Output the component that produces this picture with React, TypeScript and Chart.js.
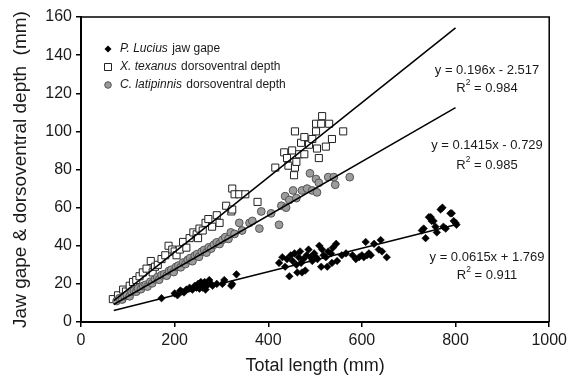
import React, { useEffect, useRef } from 'react';
import { Chart, registerables } from 'chart.js';

Chart.register(...registerables);

const FONT = '"Liberation Sans", Arial, Helvetica, sans-serif';

// P. Lucius jaw gape
const luciusLength = [172, 200, 206, 212, 215, 220, 225, 232, 238, 243, 247, 250, 253, 256, 260, 262, 264, 266, 268, 270, 274, 278, 281, 290, 302, 306, 321, 323, 332, 423, 430, 436, 440, 445, 448, 452, 456, 460, 462, 465, 468, 470, 472, 475, 479, 482, 486, 490, 494, 498, 502, 505, 509, 513, 515, 518, 523, 526, 528, 534, 536, 538, 545, 547, 557, 566, 580, 587, 594, 600, 604, 608, 611, 615, 619, 626, 636, 640, 643, 653, 728, 732, 736, 743, 747, 749, 753, 757, 760, 768, 772, 774, 779, 789, 792, 796, 800, 802];
const luciusGape = [12.5, 15, 14, 16.5, 16, 15.5, 17, 18, 17, 19, 18, 20, 17.5, 21, 18, 19.5, 21, 17, 19, 19.5, 22, 20, 19, 20, 20, 22, 19, 20, 25, 31, 34, 29, 33, 24, 35, 32, 36, 30, 26, 34, 37, 31, 26, 33, 27, 35, 38, 34, 32, 36, 34, 33, 40, 29, 38, 35, 34, 29, 37, 36, 31, 39, 41, 32, 35, 36, 35, 33, 34, 35, 34, 42, 35, 36, 35, 41, 38, 43, 37, 34, 48, 49, 44, 55, 55, 53, 53, 50, 47, 59, 60, 50, 49, 57, 57, 53, 52, 51];

// X. texanus dorsoventral depth
const texanusLength = [68, 79, 90, 96, 104, 111, 118, 125, 132, 140, 149, 153, 158, 164, 172, 180, 187, 195, 200, 204, 211, 218, 225, 232, 240, 247, 250, 253, 260, 266, 272, 280, 290, 296, 310, 321, 323, 323, 328, 338, 351, 377, 415, 434, 440, 443, 451, 455, 457, 457, 460, 466, 470, 477, 477, 487, 494, 502, 502, 504, 508, 513, 515, 523, 530, 536, 560];
const texanusDepth = [12, 14, 17, 16, 19, 21, 22, 24, 26, 28, 32, 26, 29, 30, 33, 35, 40, 38, 37, 35, 38, 42, 39, 44, 47, 46, 44, 49, 48, 52, 54, 50, 56, 52, 61, 58, 59, 70, 67, 67, 67, 63, 81, 89, 86, 82, 90, 77, 81, 100, 84, 88, 94, 97, 88, 93, 96, 104, 100, 91, 86, 104, 108, 92, 104, 96, 100];

// C. latipinnis dorsoventral depth
const latipinnisLength = [76, 82, 88, 93, 98, 104, 108, 113, 118, 122, 128, 133, 138, 142, 148, 152, 158, 163, 167, 172, 178, 183, 188, 193, 198, 203, 208, 213, 218, 223, 228, 233, 238, 243, 248, 252, 258, 263, 268, 273, 278, 284, 290, 296, 302, 308, 315, 320, 328, 338, 344, 360, 366, 381, 385, 406, 423, 428, 436, 438, 445, 453, 460, 472, 483, 489, 494, 502, 504, 508, 528, 540, 543, 574];
const latipinnisDepth = [11, 12.5, 11.8, 13.6, 14.2, 13.5, 15.8, 16.4, 15.9, 17.6, 17.2, 18.9, 19.5, 18.6, 21.1, 20.3, 22.4, 23.5, 22.2, 24.6, 25.1, 24.3, 26.8, 27.4, 26.2, 28.9, 29.6, 28.7, 31.2, 30.4, 32.6, 33.5, 31.9, 34.8, 35.6, 34.2, 36.9, 37.8, 36.4, 39.2, 38.5, 40.6, 41.8, 40.9, 43.1, 44.5, 43.6, 47, 46.2, 52, 48, 52, 53, 49, 58, 57, 51, 61, 66, 60, 64, 69, 65, 69, 70, 78, 69, 75, 68, 73, 76, 76, 72, 76];

// Linear fits (Lucius, texanus, latipinnis)
const fitSlopes = [0.0615, 0.196, 0.1415];
const fitIntercepts = [1.769, -2.517, -0.729];
const fitRange = [70, 800];
const fitEquations = ['y = 0.0615x + 1.769', 'y = 0.196x - 2.517', 'y = 0.1415x - 0.729'];
const fitR2 = ['0.911', '0.984', '0.985'];

const legendItalic = ['P. Lucius', 'X. texanus', 'C. latipinnis'];
const legendRest = [' jaw gape', ' dorsoventral depth', ' dorsoventral depth'];

const xTitle = 'Total length (mm)';
const yTitle = 'Jaw gape & dorsoventral depth  (mm)';

const toPoints = (xs: number[], ys: number[]) => xs.map((x, i) => ({ x, y: ys[i] }));
const fitPoints = (k: number) => fitRange.map((x) => ({ x, y: fitSlopes[k] * x + fitIntercepts[k] }));

const drawMarker = (ctx: CanvasRenderingContext2D, kind: number, x: number, y: number) => {
  ctx.save();
  ctx.lineWidth = 1;
  ctx.beginPath();
  if (kind === 0) {
    const r = 3.5;
    ctx.moveTo(x, y - r);
    ctx.lineTo(x + r, y);
    ctx.lineTo(x, y + r);
    ctx.lineTo(x - r, y);
    ctx.closePath();
    ctx.fillStyle = '#000';
    ctx.fill();
  } else if (kind === 1) {
    ctx.rect(x - 3.5, y - 3.5, 7, 7);
    ctx.fillStyle = '#fff';
    ctx.fill();
    ctx.strokeStyle = '#222';
    ctx.stroke();
  } else {
    ctx.arc(x, y, 3.3, 0, Math.PI * 2);
    ctx.fillStyle = '#9a9a9a';
    ctx.fill();
    ctx.strokeStyle = '#555';
    ctx.stroke();
  }
  ctx.restore();
};

const overlay = {
  id: 'overlay',
  afterDraw(chart: any) {
    const { ctx, chartArea: a } = chart;
    ctx.save();
    // frame top and right
    ctx.strokeStyle = '#000';
    ctx.lineWidth = 1.5;
    ctx.beginPath();
    ctx.moveTo(a.left, a.top);
    ctx.lineTo(a.right, a.top);
    ctx.lineTo(a.right, a.bottom);
    ctx.stroke();

    ctx.fillStyle = '#1a1a1a';
    // axis titles
    ctx.font = `18px ${FONT}`;
    ctx.textAlign = 'center';
    ctx.textBaseline = 'middle';
    ctx.fillText(xTitle, (a.left + a.right) / 2, 366);
    ctx.save();
    ctx.translate(21, (a.top + a.bottom) / 2);
    ctx.rotate(-Math.PI / 2);
    ctx.font = `19px ${FONT}`;
    ctx.fillText(yTitle, 0, 0);
    ctx.restore();

    // legend
    const rowsY = [49, 67, 85];
    ctx.textAlign = 'left';
    for (let i = 0; i < 3; i++) {
      drawMarker(ctx, i, 108, rowsY[i]);
      ctx.fillStyle = '#1a1a1a';
      ctx.font = `italic 12px ${FONT}`;
      ctx.fillText(legendItalic[i], 120, rowsY[i]);
      const w = ctx.measureText(legendItalic[i]).width;
      ctx.font = `12px ${FONT}`;
      ctx.fillText(legendRest[i], 120 + w + 1, rowsY[i]);
    }

    // equations
    const eqY = [257, 70, 145];
    const r2Y = [275, 88, 165];
    const cx = 487;
    for (let i = 0; i < 3; i++) {
      ctx.font = `13px ${FONT}`;
      ctx.textAlign = 'center';
      ctx.fillText(fitEquations[i], cx, eqY[i]);
      const rest = ' = ' + fitR2[i];
      ctx.font = `13px ${FONT}`;
      const wR = ctx.measureText('R').width;
      const wRest = ctx.measureText(rest).width;
      ctx.font = `8.5px ${FONT}`;
      const w2 = ctx.measureText('2').width;
      const total = wR + w2 + wRest;
      let x = cx - total / 2;
      ctx.textAlign = 'left';
      ctx.font = `13px ${FONT}`;
      ctx.fillText('R', x, r2Y[i]);
      x += wR;
      ctx.font = `8.5px ${FONT}`;
      ctx.fillText('2', x, r2Y[i] - 5);
      x += w2;
      ctx.font = `13px ${FONT}`;
      ctx.fillText(rest, x, r2Y[i]);
    }
    ctx.restore();
  },
};

export default function App() {
  const ref = useRef<HTMLCanvasElement | null>(null);
  useEffect(() => {
    if (!ref.current) return;
    const lineDs = (k: number) => ({
      data: fitPoints(k),
      showLine: true,
      borderColor: '#000',
      borderWidth: 1.5,
      pointRadius: 0,
      order: 0,
    });
    const chart = new Chart(ref.current, {
      type: 'scatter',
      data: {
        datasets: [
          {
            data: toPoints(luciusLength, luciusGape),
            pointStyle: 'rectRot',
            pointRadius: 3.8,
            backgroundColor: '#000',
            borderColor: '#000',
            borderWidth: 0.5,
            order: 3,
          },
          {
            data: toPoints(texanusLength, texanusDepth),
            pointStyle: 'rect',
            pointRadius: 5,
            backgroundColor: '#fff',
            borderColor: '#222',
            borderWidth: 1,
            order: 2,
          },
          {
            data: toPoints(latipinnisLength, latipinnisDepth),
            pointStyle: 'circle',
            pointRadius: 3.9,
            backgroundColor: '#9c9c9c',
            borderColor: '#555',
            borderWidth: 1,
            order: 1,
          },
          lineDs(0),
          lineDs(1),
          lineDs(2),
        ] as any,
      },
      options: {
        responsive: false,
        animation: false,
        layout: { padding: { top: 17, right: 20, left: 0, bottom: 0 } },
        plugins: { legend: { display: false }, tooltip: { enabled: false } },
        scales: {
          x: {
            type: 'linear',
            min: 0,
            max: 1000,
            ticks: { stepSize: 200, color: '#1a1a1a', font: { family: FONT, size: 16 }, padding: 4, callback: (v: any) => String(v) },
            grid: { display: true, drawOnChartArea: false, drawTicks: true, tickLength: 5, color: '#000', lineWidth: 1.5 },
            border: { display: true, color: '#000', width: 2 },
            afterFit: (s: any) => { s.height = 56; },
          },
          y: {
            type: 'linear',
            min: 0,
            max: 160,
            ticks: { stepSize: 20, color: '#1a1a1a', font: { family: FONT, size: 16 }, padding: 4, callback: (v: any) => String(v) },
            grid: { display: true, drawOnChartArea: false, drawTicks: true, tickLength: 5, color: '#000', lineWidth: 1.5 },
            border: { display: true, color: '#000', width: 2 },
            afterFit: (s: any) => { s.width = 81; },
          },
        },
      } as any,
      plugins: [overlay],
    });
    return () => chart.destroy();
  }, []);
  return (
    <div style={{ position: 'fixed', left: 0, top: 0, width: 571, height: 378, background: '#fff' }}>
      <canvas ref={ref} width={571} height={378} style={{ width: 571, height: 378 }} />
    </div>
  );
}
